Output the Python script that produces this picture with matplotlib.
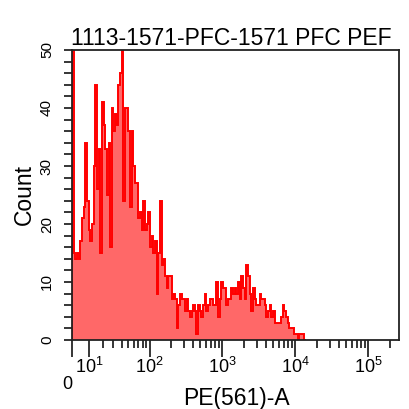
import numpy as np
import matplotlib
matplotlib.use("Agg")
import matplotlib.pyplot as plt
import matplotlib.transforms as mtransforms

# ===== data =====
title = "1113-1571-PFC-1571 PFC PEF"
xlabel = "PE(561)-A"
ylabel = "Count"

# histogram counts, one per display bin, left to right (first bin piles up at 0)
counts = [60,
          15, 14, 15, 14, 17, 21, 23, 34, 24, 19, 17, 20, 30, 44, 26, 33, 15, 41, 37, 33,
          25, 34, 16, 40, 36, 39, 37, 44, 46, 53, 24, 40, 40, 36, 23, 36, 30, 27, 27, 21,
          22, 19, 24, 19, 20, 22, 16, 18, 15, 17, 8, 15, 24, 13, 14, 11, 9, 11, 11, 7,
          8, 7, 2, 6, 8, 7, 7, 5, 7, 5, 4, 5, 6, 5, 1, 6, 5, 4, 6, 8,
          5, 6, 7, 7, 6, 6, 10, 4, 7, 10, 9, 9, 6, 7, 7, 9, 8, 9, 8, 10,
          7, 11, 9, 7, 13, 11, 8, 5, 9, 7, 6, 6, 8, 7, 7, 6, 4, 5, 6, 4,
          5, 3, 3, 3, 3, 4, 6, 5, 4, 3, 2, 2, 2, 1, 1, 0, 1, 1, 1, 0]
n_display_bins = 197

major_ticks = [0, 1e1, 1e2, 1e3, 1e4, 1e5]
major_labels = ["", r"$\mathregular{10^1}$", r"$\mathregular{10^2}$",
                r"$\mathregular{10^3}$", r"$\mathregular{10^4}$", r"$\mathregular{10^5}$"]
minor_ticks = [m * 10 ** k for k in range(1, 5) for m in range(2, 10)] + [2e5]
xmax = 262144
yticks = [0, 10, 20, 30, 40, 50]

# ===== biexponential-like x scale =====
C = 17.5
def fwd(x):
    return np.arcsinh(np.asarray(x, dtype=float) / C)

def inv(u):
    return C * np.sinh(u)

umax = fwd(xmax)
edges = inv(np.linspace(0, umax, n_display_bins + 1))[:len(counts) + 1]

# ===== figure =====
plt.rcParams["font.family"] = ["Liberation Sans", "DejaVu Sans"]
narrow = ["Liberation Sans Narrow", "Liberation Sans", "DejaVu Sans"]

fig = plt.figure(figsize=(4.09, 4.09), dpi=100)
ax = fig.add_axes([72 / 409, 1 - 340 / 409, 327 / 409, 290 / 409])
ax.set_xscale("function", functions=(fwd, inv))

ax.stairs(counts, edges, fill=True, color="#ff6868", lw=0)
ax.stairs(counts, edges, color="#ff0000", lw=1.4)

ax.set_xlim(0, xmax)
ax.set_ylim(0, 50)

for s in ax.spines.values():
    s.set_linewidth(1.3)
    s.set_color("#222222")

ax.set_xticks(major_ticks)
ax.set_xticklabels(major_labels)
ax.set_xticks(minor_ticks, minor=True)
ax.tick_params(axis="x", which="major", length=12, width=1.1, pad=0, labelsize=13)
ax.tick_params(axis="x", which="minor", length=6, width=1.1)
for lab in ax.get_xticklabels():
    lab.set_family(narrow)

ax.set_yticks(yticks)
ax.set_yticks(np.arange(0, 51, 2), minor=True)
ax.tick_params(axis="y", which="both", length=6, width=1.1, pad=7, labelsize=11)
for lab in ax.get_yticklabels():
    lab.set_family(narrow)
    lab.set_rotation(90)
    lab.set_va("center")

# the "0" label sits lower than the decade labels
trans = mtransforms.blended_transform_factory(ax.transData, ax.transAxes)
ax.text(0, -0.152, "0", transform=trans, ha="right", va="center",
        fontsize=13, family=narrow)

fig.text(71 / 409, 1 - 45 / 409, title, fontsize=16.5, ha="left", va="baseline")
fig.text(236 / 409, 1 - 399 / 409, xlabel, fontsize=16.5, ha="center", va="center")
fig.text(24 / 409, 1 - 194 / 409, ylabel, fontsize=16.5, ha="center", va="center",
         rotation=90)

fig.savefig("out.png", dpi=100)
